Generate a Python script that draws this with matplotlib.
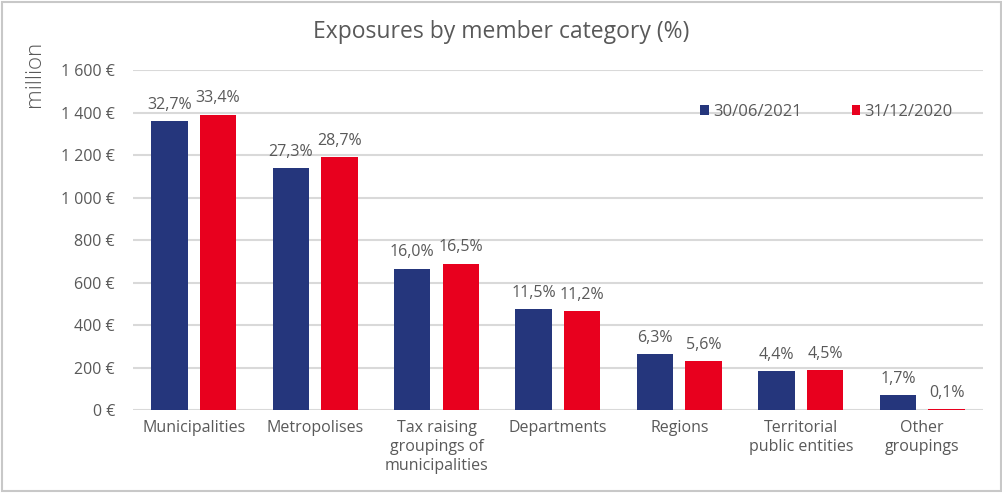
import matplotlib
matplotlib.use("Agg")
import matplotlib.pyplot as plt
import numpy as np
from matplotlib.patches import Rectangle

# data (EUR million)
categories = ["Municipalities", "Metropolises", "Tax raising\ngroupings of\nmunicipalities",
              "Departments", "Regions", "Territorial\npublic entities", "Other\ngroupings"]
exposure_2021 = [1360, 1139, 665, 475, 262, 182, 71]
exposure_2020 = [1390, 1191, 689, 466, 229, 187, 4]
share_2021 = ["32,7%", "27,3%", "16,0%", "11,5%", "6,3%", "4,4%", "1,7%"]
share_2020 = ["33,4%", "28,7%", "16,5%", "11,2%", "5,6%", "4,5%", "0,1%"]
series_names = ["30/06/2021", "31/12/2020"]
y_ticks = [0, 200, 400, 600, 800, 1000, 1200, 1400, 1600]

BLUE = "#25367C"
RED = "#E8001E"
TEXT = "#595959"
GRID = "#D9D9D9"

plt.rcParams["font.family"] = ["Open Sans", "DejaVu Sans"]

fig = plt.figure(figsize=(10.03, 4.93), dpi=100)
ax = fig.add_axes([0.1326, 0.168, 0.8474, 0.690])

x = np.arange(len(categories))
w = 0.30
b1 = ax.bar(x - 0.2, exposure_2021, w, color=BLUE, label=series_names[0], zorder=3)
b2 = ax.bar(x + 0.2, exposure_2020, w, color=RED, label=series_names[1], zorder=3)

for bars, labels, weight in ((b1, share_2021, "normal"), (b2, share_2020, "medium")):
    for rect, lab in zip(bars, labels):
        ax.annotate(lab, (rect.get_x() + rect.get_width() / 2, rect.get_height()),
                    xytext=(0, 6), textcoords="offset points", ha="center", va="bottom",
                    fontsize=11.5, color=TEXT, fontweight=weight)

ax.set_xlim(-0.5, len(categories) - 0.5)
ax.set_ylim(0, 1600)
ax.set_yticks(y_ticks)
ax.set_yticklabels([f"{v:,}".replace(",", " ") + " €" if v >= 1000 else f"{v} €" for v in y_ticks])
ax.set_xticks(x)
ax.set_xticklabels(categories, linespacing=1.25)
ax.tick_params(axis="both", length=0, labelsize=11.5, labelcolor=TEXT)
ax.tick_params(axis="x", pad=7)
ax.tick_params(axis="y", pad=13)
ax.grid(axis="y", color=GRID, linewidth=1.5, zorder=0)
for s in ax.spines.values():
    s.set_visible(False)

ax.set_ylabel("million", fontsize=16, color=TEXT, fontweight="light")
ax.yaxis.set_label_coords(-0.103, 0.99)

fig.text(0.5, 0.935, "Exposures by member category (%)", ha="center", va="center",
         fontsize=16.5, color=TEXT)

ax.legend(loc="center left", bbox_to_anchor=(0.65, 0.877), ncol=2, frameon=False,
          fontsize=12, labelcolor=TEXT, handlelength=0.5, handleheight=0.5,
          handletextpad=0.25, columnspacing=3.0)

fig.patches.append(Rectangle((0.002, 0.004), 0.996, 0.992, transform=fig.transFigure,
                             fill=False, edgecolor="#C8C8C8", linewidth=1.5))

fig.savefig("out.png", dpi=100, facecolor="white")
